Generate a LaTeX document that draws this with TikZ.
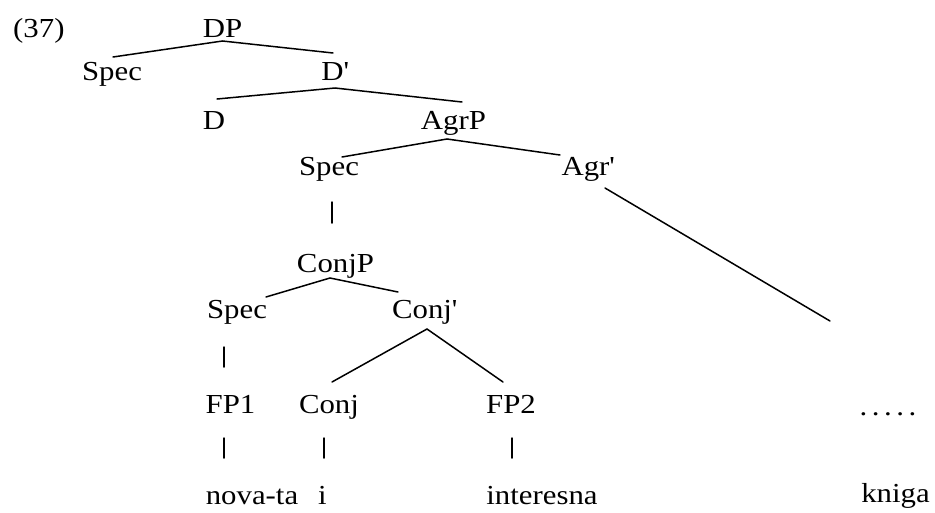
\documentclass[tikz,border=0pt]{standalone}
\usepackage{fontspec}
\setmainfont{Liberation Serif}[FakeStretch=1.12]
\newcommand{\prm}{\textquotesingle}
\begin{document}
\begin{tikzpicture}[x=1pt,y=1pt,
  lab/.style={anchor=base,inner sep=0pt,font=\fontsize{27.5}{30}\selectfont},
  branch/.style={line width=1.5pt,line cap=round}]
\useasboundingbox (0,0) rectangle (935,-512);

% labels
\node[lab,anchor=base west] (ex) at (13,-37) {(37)};
\node[lab] (dp)     at (222.5,-37) {DP};
\node[lab] (spec1)  at (112,-80)   {Spec};
\node[lab] (dbar)   at (335,-80)   {D\prm};
\node[lab] (d)      at (214,-129)  {D};
\node[lab] (agrp)   at (453.5,-129){AgrP};
\node[lab] (spec2)  at (329,-175)  {Spec};
\node[lab] (agrbar) at (588,-175)  {Agr\prm};
\node[lab] (conjp)  at (335.5,-272){ConjP};
\node[lab] (spec3)  at (237,-318)  {Spec};
\node[lab] (conjbar)at (424.5,-318){Conj\prm};
\node[lab] (fp1)    at (230.5,-413){FP1};
\node[lab] (conj)   at (329,-413)  {Conj};
\node[lab] (fp2)    at (511,-413)  {FP2};
\node[lab] (dots)   at (888,-415)  {.\,.\,.\,.\,.};
\node[lab] (w1)     at (252,-504)  {nova-ta};
\node[lab] (w2)     at (322.5,-504){i};
\node[lab] (w3)     at (542,-504)  {interesna};
\node[lab] (w4)     at (895.5,-502){kniga};

% free end of the Agr' branch
\coordinate (agrend) at ([xshift=-58pt,yshift=94pt]dots.base);

% branches
\draw[branch] ([xshift=1pt,yshift=23pt]spec1.base) -- ([yshift=-4pt]dp.base)
              -- ([xshift=-2pt,yshift=27pt]dbar.base);
\draw[branch] ([xshift=3pt,yshift=30pt]d.base) -- ([yshift=-8pt]dbar.base)
              -- ([xshift=8.5pt,yshift=27pt]agrp.base);
\draw[branch] ([xshift=13pt,yshift=18pt]spec2.base) -- ([xshift=-6.5pt,yshift=-10pt]agrp.base)
              -- ([xshift=-28pt,yshift=20pt]agrbar.base);
\draw[branch] ([xshift=17pt,yshift=-13pt]agrbar.base) -- (agrend);
\draw[branch] ([xshift=3pt,yshift=-27pt]spec2.base) -- ([xshift=-3.5pt,yshift=49pt]conjp.base);
\draw[branch] ([xshift=29pt,yshift=21pt]spec3.base) -- ([xshift=-5.5pt,yshift=-6pt]conjp.base)
              -- ([xshift=-26.5pt,yshift=26pt]conjbar.base);
\draw[branch] ([xshift=-13pt,yshift=-29pt]spec3.base) -- ([xshift=-6.5pt,yshift=46pt]fp1.base);
\draw[branch] ([xshift=3pt,yshift=31pt]conj.base) -- ([xshift=2.5pt,yshift=-11pt]conjbar.base)
              -- ([xshift=-8pt,yshift=31pt]fp2.base);
\draw[branch] ([xshift=-6.5pt,yshift=-25pt]fp1.base) -- ([xshift=-28pt,yshift=46pt]w1.base);
\draw[branch] ([xshift=-5pt,yshift=-25pt]conj.base) -- ([xshift=1.5pt,yshift=46pt]w2.base);
\draw[branch] ([xshift=1pt,yshift=-25pt]fp2.base) -- ([xshift=-30pt,yshift=46pt]w3.base);
\end{tikzpicture}
\end{document}
